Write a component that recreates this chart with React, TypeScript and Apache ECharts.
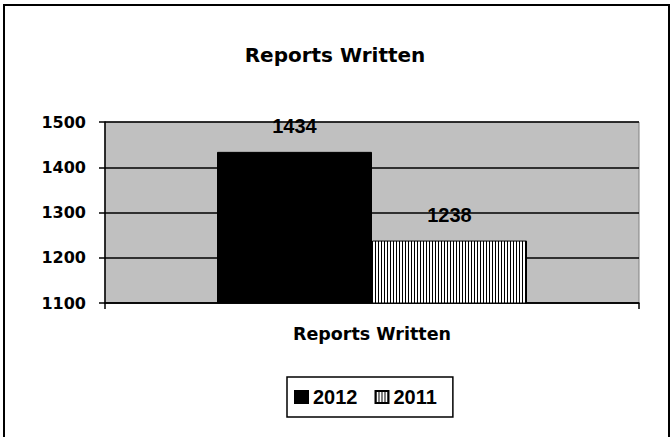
import React, { useEffect, useRef } from "react";
import * as echarts from "echarts";

const categories = ["Reports Written"];
const seriesNames = ["2012", "2011"];
const values2012 = [1434];
const values2011 = [1238];
const yTicks = { min: 1100, max: 1500, interval: 100 };
const titleText = "Reports Written";

function makeStripePattern(): HTMLCanvasElement {
  const c = document.createElement("canvas");
  c.width = 3;
  c.height = 4;
  const ctx = c.getContext("2d")!;
  ctx.fillStyle = "#ffffff";
  ctx.fillRect(0, 0, 3, 4);
  ctx.fillStyle = "#000000";
  ctx.fillRect(0, 0, 1, 4);
  return c;
}

export default function App() {
  const ref = useRef<HTMLDivElement>(null);
  useEffect(() => {
    document.body.style.margin = "0";
    if (!ref.current) return;
    const chart = echarts.init(ref.current, undefined, { renderer: "svg" });
    const pattern = { image: makeStripePattern(), repeat: "repeat" };
    const bold = "DejaVu Sans";
    const labelStyle = {
      show: true,
      position: "top",
      distance: 16,
      fontFamily: "Liberation Sans",
      fontWeight: "bold",
      fontSize: 20,
      color: "#000",
    };
    chart.setOption({
      animation: false,
      backgroundColor: "#ffffff",
      title: {
        text: titleText,
        left: "center",
        top: 40,
        textStyle: { fontFamily: bold, fontWeight: "bold", fontSize: 20, color: "#000" },
      },
      graphic: [
        {
          type: "rect",
          shape: { x: 4, y: 5, width: 665, height: 450 },
          style: { fill: "none", stroke: "#000", lineWidth: 2 },
          silent: true,
        },
      ],
      legend: {
        left: 287,
        top: 377,
        data: seriesNames,
        icon: "rect",
        itemWidth: 13,
        itemHeight: 12,
        itemGap: 17,
        borderColor: "#000",
        borderWidth: 1.5,
        padding: [10, 16, 10, 7],
        textStyle: { fontFamily: "Liberation Sans", fontWeight: "bold", fontSize: 20, color: "#000" },
      },
      grid: {
        left: 105,
        right: 31,
        top: 122,
        bottom: 134,
        show: true,
        backgroundColor: "#c0c0c0",
        borderColor: "#808080",
        borderWidth: 1,
      },
      xAxis: {
        type: "category",
        data: categories,
        axisLine: { show: true, lineStyle: { color: "#000", width: 1.5 } },
        axisTick: { show: true, length: 6, lineStyle: { color: "#000", width: 1.5 } },
        axisLabel: { margin: 22, fontFamily: bold, fontWeight: "bold", fontSize: 17.5, color: "#000" },
      },
      yAxis: {
        type: "value",
        min: yTicks.min,
        max: yTicks.max,
        interval: yTicks.interval,
        axisLine: { show: true, lineStyle: { color: "#000", width: 1.5 } },
        axisTick: { show: true, length: 6, lineStyle: { color: "#000", width: 1.5 } },
        axisLabel: {
          margin: 19,
          fontFamily: bold,
          fontWeight: "bold",
          fontSize: 16,
          color: "#000",
          formatter: (v: number) => String(v),
        },
        splitLine: { show: true, lineStyle: { color: "#000", width: 1.5 } },
      },
      series: [
        {
          name: seriesNames[0],
          type: "bar",
          data: values2012,
          barWidth: 155,
          barGap: "0%",
          itemStyle: { color: "#000", borderColor: "#000", borderWidth: 1 },
          label: labelStyle,
        },
        {
          name: seriesNames[1],
          type: "bar",
          data: values2011,
          barWidth: 155,
          barGap: "0%",
          itemStyle: { color: pattern, borderColor: "#000", borderWidth: 1 },
          label: labelStyle,
        },
      ],
    });
    return () => chart.dispose();
  }, []);
  return <div ref={ref} style={{ width: 670, height: 437 }} />;
}
